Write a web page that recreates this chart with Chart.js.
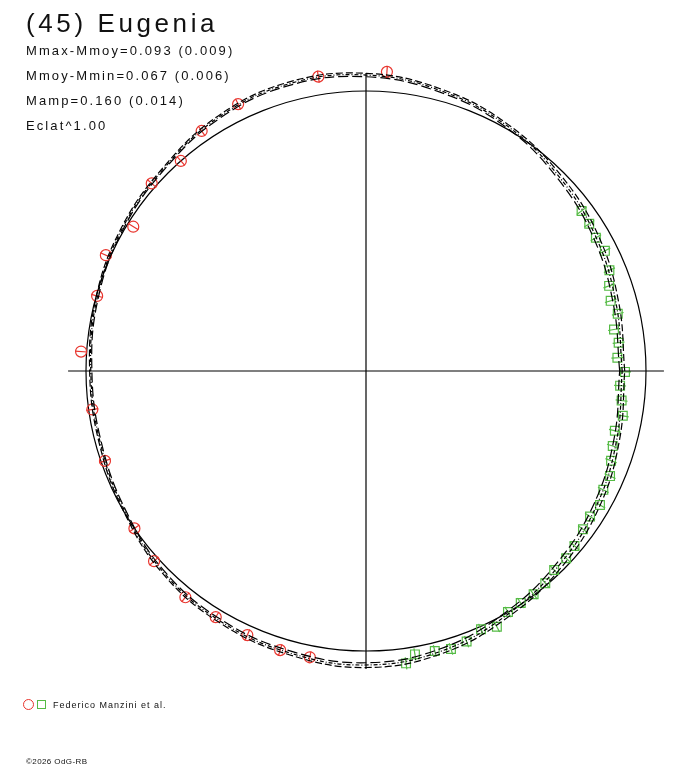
<!DOCTYPE html>
<html>
<head>
<meta charset="utf-8">
<title>(45) Eugenia</title>
<script src="https://cdn.jsdelivr.net/npm/chart.js@4/dist/chart.umd.min.js"></script>
<style>
  body { margin: 0; background: #fff; font-family: Arial, "Liberation Sans", sans-serif; color: #111; }
  #wrap { position: relative; width: 688px; height: 768px; }
  #lcPolar { position: absolute; left: 0; top: 0; }
  .txt { position: absolute; white-space: nowrap; }
  #titulo { left: 26px; top: 10px; font-size: 26px; line-height: 26px; letter-spacing: 3.6px; }
  #info { left: 26px; top: 38px; font-size: 13px; line-height: 25px; letter-spacing: 2.1px; }
  #legenda { left: 53px; top: 699px; font-size: 9px; line-height: 12px; letter-spacing: 1px; }
  #simbCirc { position: absolute; left: 23px; top: 699px; width: 9px; height: 9px; border: 1px solid #e8352e; border-radius: 50%; }
  #simbQuad { position: absolute; left: 37px; top: 700px; width: 7px; height: 7px; border: 1px solid #55bb45; }
  #copy { left: 26px; top: 757px; font-size: 8px; line-height: 10px; letter-spacing: 0.4px; }
</style>
</head>
<body>
<div id="wrap">
  <canvas id="lcPolar" width="688" height="768"></canvas>
  <div class="txt" id="titulo">(45) Eugenia</div>
  <div class="txt" id="info">Mmax-Mmoy=0.093 (0.009)<br>Mmoy-Mmin=0.067 (0.006)<br>Mamp=0.160 (0.014)<br>Eclat^1.00</div>
  <div id="simbCirc"></div><div id="simbQuad"></div>
  <div class="txt" id="legenda">Federico Manzini et al.</div>
  <div class="txt" id="copy">©2026 OdG-RB</div>
</div>
<script>
// relative brightness (mean = 1), angle in degrees counter-clockwise from +x
var meanLevel = 1.0;
var axisExtent = 1.064;

// observations - red circles
var redAngle = [86.0, 99.2, 115.6, 124.4, 131.4, 138.8, 148.2, 156.0, 164.4, 176.1,
  188.0, 199.0, 214.2, 221.9, 231.4, 238.6, 245.8, 252.9, 258.9];
var redFlux = [1.071, 1.065, 1.057, 1.039, 1.000, 1.017, 0.978, 1.017, 0.997, 1.020,
  0.987, 0.986, 1.000, 1.017, 1.034, 1.030, 1.034, 1.043, 1.042];

// observations - green squares
var greenAngle = [36.6, 33.4, 30.1, 26.7, 22.5, 19.3, 16.0, 12.8, 9.5, 6.4, 3.0, -0.2,
  -3.3, -6.6, -9.9, -13.5, -16.9, -20.1, -23.3, -26.6, -29.8, -33.0, -36.1, -40.0,
  -43.1, -46.6, -49.8, -53.1, -56.3, -59.5, -62.9, -66.0, -69.6, -73.0, -76.2, -80.2, -82.2];
var greenFlux = [0.959, 0.955, 0.949, 0.955, 0.941, 0.920, 0.909, 0.922, 0.898, 0.908, 0.899, 0.925,
  0.909, 0.919, 0.931, 0.914, 0.921, 0.932, 0.949, 0.948, 0.963, 0.954, 0.959, 0.972,
  0.979, 0.978, 0.992, 0.997, 0.996, 0.999, 1.026, 1.010, 1.031, 1.038, 1.030, 1.027, 1.054];

// fitted light curve and its two neighbours
var curveAngle = [0, 15, 30, 45, 60, 75, 90, 105, 120, 135, 150, 165,
  180, 195, 210, 225, 240, 255, 270, 285, 300, 315, 330, 345];
var curveMid = [0.915, 0.925, 0.950, 0.978, 1.010, 1.036, 1.057, 1.062, 1.048, 1.022, 1.008, 0.995,
  0.983, 0.983, 0.996, 1.020, 1.034, 1.043, 1.050, 1.036, 1.006, 0.978, 0.953, 0.928];
var curveUpper = [0.924, 0.935, 0.960, 0.986, 1.016, 1.042, 1.063, 1.068, 1.053, 1.026, 1.012, 0.999,
  0.987, 0.987, 1.000, 1.025, 1.040, 1.050, 1.059, 1.045, 1.015, 0.989, 0.964, 0.938];
var curveLower = [0.906, 0.915, 0.941, 0.970, 1.004, 1.030, 1.051, 1.056, 1.043, 1.018, 1.004, 0.991,
  0.979, 0.979, 0.992, 1.015, 1.028, 1.036, 1.042, 1.027, 0.996, 0.967, 0.942, 0.918];

var corVermelho = '#e8352e';
var corVerde = '#55bb45';

// polar (angle, flux) -> points for the scatter scales
function polar(angles, values, closed) {
  var pts = angles.map(function (a, i) {
    var t = a * Math.PI / 180;
    return { x: values[i] * Math.cos(t), y: values[i] * Math.sin(t) };
  });
  if (closed) pts.push(pts[0]);
  return pts;
}

function curva(values, dash) {
  return {
    data: polar(curveAngle, values, true),
    showLine: true, tension: 0.4, borderColor: '#000', borderWidth: 1.2,
    borderDash: dash, pointRadius: 0, fill: false
  };
}

// solid mean circle drawn through the scales
var meanCircle = {
  id: 'meanCircle',
  beforeDatasetsDraw: function (chart) {
    var xs = chart.scales.x, ys = chart.scales.y;
    var cx = xs.getPixelForValue(0), cy = ys.getPixelForValue(0);
    var rad = xs.getPixelForValue(meanLevel) - cx;
    var c = chart.ctx;
    c.save();
    c.beginPath();
    c.arc(cx, cy, rad, 0, 2 * Math.PI);
    c.strokeStyle = '#000';
    c.lineWidth = 1.2;
    c.stroke();
    c.restore();
  }
};

var ctx = document.getElementById('lcPolar').getContext('2d');

var graficoPolar = new Chart(ctx, {
  type: 'scatter',
  data: {
    datasets: [
      // axes
      { data: [{ x: -axisExtent, y: 0 }, { x: axisExtent, y: 0 }], showLine: true, borderColor: '#000', borderWidth: 1.2, pointRadius: 0 },
      { data: [{ x: 0, y: -axisExtent }, { x: 0, y: axisExtent }], showLine: true, borderColor: '#000', borderWidth: 1.2, pointRadius: 0 },
      curva(curveUpper, [7, 3]),
      curva(curveMid, [4, 2, 1, 2]),
      curva(curveLower, [10, 4]),
      // error ticks (radial)
      { data: polar(redAngle, redFlux), pointStyle: 'line', pointRadius: 6, pointBorderColor: corVermelho,
        pointBorderWidth: 1.2, pointRotation: redAngle.map(function (a) { return -a; }) },
      { data: polar(greenAngle, greenFlux), pointStyle: 'line', pointRadius: 6, pointBorderColor: corVerde,
        pointBorderWidth: 1.2, pointRotation: greenAngle.map(function (a) { return -a; }) },
      // markers
      { data: polar(redAngle, redFlux), pointStyle: 'circle', pointRadius: 5.5, pointBorderColor: corVermelho,
        pointBackgroundColor: 'rgba(0,0,0,0)', pointBorderWidth: 1.2 },
      { data: polar(greenAngle, greenFlux), pointStyle: 'rect', pointRadius: 6.2, pointBorderColor: corVerde,
        pointBackgroundColor: 'rgba(0,0,0,0)', pointBorderWidth: 1.2 }
    ]
  },
  options: {
    responsive: false,
    animation: false,
    devicePixelRatio: 1,
    layout: { padding: { left: 58, right: 14, top: 63, bottom: 89 } },
    plugins: {
      legend: { display: false },
      tooltip: { enabled: false }
    },
    scales: {
      x: { type: 'linear', min: -1.1, max: 1.1, display: false },
      y: { type: 'linear', min: -1.1, max: 1.1, display: false }
    }
  },
  plugins: [meanCircle]
});
</script>
</body>
</html>
